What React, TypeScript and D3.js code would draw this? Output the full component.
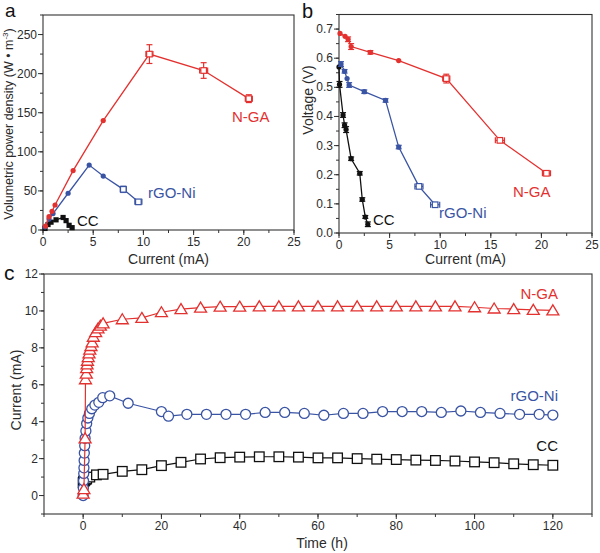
import React from "react";
import * as d3 from "d3";

const RED = "#e3312f";
const BLUE = "#3a54a4";
const BLACK = "#111111";
const TXT = "#2b2b2b";
const FONT = "Arial, 'Liberation Sans', Helvetica, sans-serif";

// ---------- Panel a: volumetric power density vs current ----------
const aNgaX = [0.25, 0.6, 0.9, 1.2, 3.0, 6.0, 10.6, 16.0, 20.5];
const aNgaY = [5, 17, 24, 32, 76, 140, 225, 204, 168];
const aNgaEY = [0, 0, 0, 0, 0, 0, 12, 10, 5];
const aNgaEX = [0, 0, 0, 0, 0, 0, 0.35, 0.4, 0.35];
const aRgoX = [0.2, 0.6, 1.0, 2.5, 4.6, 6.0, 8.0, 9.5];
const aRgoY = [4, 14, 21, 47, 83, 69, 52, 36];
const aRgoEY = [0, 0, 0, 0, 0, 0, 4, 2];
const aRgoEX = [0, 0, 0, 0, 0, 0, 0.3, 0.35];
const aCcX = [0.2, 0.5, 0.8, 1.3, 2.0, 2.3, 2.6, 2.9];
const aCcY = [2, 7, 10, 13, 16, 12, 6, 3];
const aXTicks = [0, 5, 10, 15, 20, 25];
const aYTicks = [0, 50, 100, 150, 200, 250];

// ---------- Panel b: voltage vs current ----------
const bNgaX = [0.1, 0.6, 0.9, 1.2, 3.1, 5.9, 10.6, 15.9, 20.5];
const bNgaY = [0.685, 0.675, 0.665, 0.64, 0.62, 0.592, 0.53, 0.318, 0.205];
const bNgaEY = [0, 0, 0.008, 0.01, 0.006, 0, 0.015, 0.006, 0];
const bNgaEX = [0, 0, 0, 0, 0, 0, 0.35, 0.45, 0.4];
const bRgoX = [0.2, 0.55, 0.8, 1.0, 2.5, 4.6, 5.9, 7.9, 9.5];
const bRgoY = [0.58, 0.555, 0.53, 0.508, 0.485, 0.455, 0.295, 0.16, 0.097];
const bRgoEY = [0.008, 0.006, 0, 0.008, 0.006, 0.006, 0.006, 0.006, 0.005];
const bRgoEX = [0, 0, 0, 0, 0, 0, 0, 0.4, 0.45];
const bCcX = [0.0, 0.05, 0.4, 0.55, 0.7, 1.2, 2.05, 2.3, 2.6, 2.85];
const bCcY = [0.57, 0.51, 0.405, 0.37, 0.355, 0.255, 0.205, 0.115, 0.055, 0.03];
const bCcEY = [0, 0.01, 0.008, 0.008, 0.01, 0.006, 0.006, 0.006, 0.005, 0.008];
const bXTicks = [0, 5, 10, 15, 20, 25];
const bYTicks = [0.0, 0.1, 0.2, 0.3, 0.4, 0.5, 0.6, 0.7];

// ---------- Panel c: current vs time ----------
const cNgaT = [0, 0.2, 0.5, 0.6, 0.8, 0.9, 1.0, 1.1, 1.3, 1.5, 1.7, 2.0, 2.3, 2.6, 3.2, 3.8, 4.4, 5.1,
  10, 15, 20, 25, 30, 35, 40, 45, 50, 55, 60, 65, 70, 75, 80, 85, 90, 95, 100, 105, 110, 115, 120];
const cNgaI = [0.1, 0.35, 3.1, 6.3, 6.6, 6.9, 7.1, 7.3, 7.5, 7.7, 7.9, 8.1, 8.3, 8.6, 8.85, 9.05, 9.2, 9.33,
  9.55, 9.62, 9.93, 10.1, 10.18, 10.23, 10.23, 10.25, 10.25, 10.25, 10.25, 10.25, 10.25, 10.25, 10.25, 10.25, 10.25, 10.25, 10.2, 10.13, 10.1, 10.06, 10.03];
const cRgoT = [0, 0.05, 0.1, 0.15, 0.2, 0.25, 0.3, 0.4, 0.5, 0.7, 0.9, 1.2, 1.6, 2.2, 3.0, 4.0, 5.0, 6.8,
  11.5, 20, 21.8, 26.5, 31.5, 36.5, 41.5, 46.5, 51.5, 56.5, 61.5, 66.5, 71.5, 76.5, 81.5, 86.5, 91.5, 96.5, 101.5, 106.5, 111.5, 116.5, 120];
const cRgoI = [0, 0.4, 0.8, 1.2, 1.5, 1.9, 2.3, 2.7, 3.1, 3.5, 3.9, 4.2, 4.45, 4.7, 4.9, 5.05, 5.3, 5.4,
  5.0, 4.55, 4.3, 4.4, 4.4, 4.4, 4.4, 4.5, 4.5, 4.45, 4.35, 4.45, 4.45, 4.55, 4.55, 4.55, 4.5, 4.58, 4.5, 4.45, 4.4, 4.4, 4.36];
const cCcT = [0, 0.1, 0.2, 0.3, 0.4, 0.5, 0.7, 0.9, 1.7, 3.4, 5.1, 10, 15, 20, 25, 30, 35, 40, 45, 50, 55,
  60, 65, 70, 75, 80, 85, 90, 95, 100, 105, 110, 115, 120];
const cCcI = [0.7, 0.75, 0.78, 0.8, 0.82, 0.85, 0.88, 0.9, 1.0, 1.12, 1.15, 1.31, 1.4, 1.62, 1.8, 1.98, 2.05, 2.08, 2.1, 2.1, 2.08,
  2.04, 2.04, 2.0, 1.97, 1.95, 1.92, 1.9, 1.87, 1.82, 1.78, 1.72, 1.67, 1.64];
const cXTicks = [0, 20, 40, 60, 80, 100, 120];
const cYTicks = [0, 2, 4, 6, 8, 10, 12];

type Sc = d3.ScaleLinear<number, number>;

function Frame({ x, y, xTicks, yTicks, xFmt, yFmt, xMinor, yMinor }: {
  x: Sc; y: Sc; xTicks: number[]; yTicks: number[]; xFmt: (v: number) => string; yFmt: (v: number) => string;
  xMinor: number; yMinor: number;
}) {
  const [x0, x1] = x.range();
  const [y0, y1] = y.range(); // y0 bottom, y1 top
  const xm: number[] = [];
  const [xd0, xd1] = x.domain();
  for (let v = Math.ceil(xd0 / xMinor) * xMinor; v <= xd1 + 1e-9; v += xMinor) xm.push(v);
  const ym: number[] = [];
  const [yd0, yd1] = y.domain();
  for (let v = Math.ceil(yd0 / yMinor - 1e-9) * yMinor; v <= yd1 + 1e-9; v += yMinor) ym.push(v);
  return (
    <g>
      <rect x={x0} y={y1} width={x1 - x0} height={y0 - y1} fill="none" stroke="#333" strokeWidth={1.1} />
      {xm.map((v, i) => (
        <line key={"xm" + i} x1={x(v)} x2={x(v)} y1={y0} y2={y0 + 3} stroke="#333" strokeWidth={1} />
      ))}
      {xTicks.map((v, i) => (
        <g key={"xt" + i}>
          <line x1={x(v)} x2={x(v)} y1={y0} y2={y0 + 5} stroke="#333" strokeWidth={1} />
          <text x={x(v)} y={y0 + 16} textAnchor="middle" fontSize={12} fontFamily={FONT} fill={TXT}>{xFmt(v)}</text>
        </g>
      ))}
      {ym.map((v, i) => (
        <line key={"ym" + i} x1={x0 - 3} x2={x0} y1={y(v)} y2={y(v)} stroke="#333" strokeWidth={1} />
      ))}
      {yTicks.map((v, i) => (
        <g key={"yt" + i}>
          <line x1={x0 - 5} x2={x0} y1={y(v)} y2={y(v)} stroke="#333" strokeWidth={1} />
          <text x={x0 - 6} y={y(v) + 4} textAnchor="end" fontSize={12} fontFamily={FONT} fill={TXT}>{yFmt(v)}</text>
        </g>
      ))}
    </g>
  );
}

function SmallSeries({ x, y, xs, ys, ex, ey, color, marker }: {
  x: Sc; y: Sc; xs: number[]; ys: number[]; ex?: number[]; ey?: number[]; color: string; marker: "dot" | "sq";
}) {
  const line = d3.line<number>().x((_, i) => x(xs[i])).y((_, i) => y(ys[i]));
  return (
    <g>
      <path d={line(xs) || ""} fill="none" stroke={color} strokeWidth={1.3} />
      {xs.map((v, i) => {
        const cx = x(v), cy = y(ys[i]);
        const eyv = ey ? ey[i] : 0;
        const exv = ex ? ex[i] : 0;
        return (
          <g key={i}>
            {eyv > 0 && (
              <g stroke={color} strokeWidth={1.2}>
                <line x1={cx} x2={cx} y1={y(ys[i] + eyv)} y2={y(ys[i] - eyv)} />
                <line x1={cx - 3} x2={cx + 3} y1={y(ys[i] + eyv)} y2={y(ys[i] + eyv)} />
                <line x1={cx - 3} x2={cx + 3} y1={y(ys[i] - eyv)} y2={y(ys[i] - eyv)} />
              </g>
            )}
            {exv > 0 && (
              <g stroke={color} strokeWidth={1.2}>
                <line x1={x(v - exv)} x2={x(v + exv)} y1={cy} y2={cy} />
                <line x1={x(v - exv)} x2={x(v - exv)} y1={cy - 3} y2={cy + 3} />
                <line x1={x(v + exv)} x2={x(v + exv)} y1={cy - 3} y2={cy + 3} />
              </g>
            )}
            {marker === "sq" ? (
              <rect x={cx - 2.6} y={cy - 2.6} width={5.2} height={5.2} fill={color} />
            ) : exv > 0 ? (
              <rect x={cx - 2.8} y={cy - 2.8} width={5.6} height={5.6} fill="white" stroke={color} strokeWidth={1.2} />
            ) : (
              <circle cx={cx} cy={cy} r={2.6} fill={color} />
            )}
          </g>
        );
      })}
    </g>
  );
}

function BigSeries({ x, y, xs, ys, color, marker }: {
  x: Sc; y: Sc; xs: number[]; ys: number[]; color: string; marker: "tri" | "circ" | "sq";
}) {
  const line = d3.line<number>().x((_, i) => x(xs[i])).y((_, i) => y(ys[i]));
  return (
    <g>
      <path d={line(xs) || ""} fill="none" stroke={color} strokeWidth={1.2} />
      {xs.map((v, i) => {
        const cx = x(v), cy = y(ys[i]);
        if (marker === "tri")
          return <path key={i} d={`M${cx},${cy - 5.5}L${cx + 6},${cy + 4.5}L${cx - 6},${cy + 4.5}Z`} fill="white" stroke={color} strokeWidth={1.3} />;
        if (marker === "circ")
          return <circle key={i} cx={cx} cy={cy} r={5} fill="white" stroke={color} strokeWidth={1.3} />;
        return <rect key={i} x={cx - 4.8} y={cy - 4.8} width={9.6} height={9.6} fill="white" stroke={color} strokeWidth={1.3} />;
      })}
    </g>
  );
}

export default function App() {
  // panel a scales
  const ax = d3.scaleLinear().domain([0, 25]).range([43, 294]);
  const ay = d3.scaleLinear().domain([0, 275]).range([230, 15]);
  // panel b
  const bx = d3.scaleLinear().domain([0, 25]).range([339, 592]);
  const by = d3.scaleLinear().domain([0, 0.75]).range([233, 14.5]);
  // panel c
  const cx = d3.scaleLinear().domain([-10, 130]).range([44, 592]);
  const cy = d3.scaleLinear().domain([-1, 12]).range([514, 274]);

  const intFmt = (v: number) => d3.format("d")(v);
  const oneFmt = (v: number) => d3.format(".1f")(v);

  return (
    <svg width={600} height={553} style={{ position: "absolute", left: 0, top: 0, background: "white" }} fontFamily={FONT}>
      <rect x={0} y={0} width={600} height={553} fill="white" />

      {/* Panel a */}
      <text x={5} y={17} fontSize={19} fill="#111">a</text>
      <Frame x={ax} y={ay} xTicks={aXTicks} yTicks={aYTicks} xFmt={intFmt} yFmt={intFmt} xMinor={2.5} yMinor={25} />
      <SmallSeries x={ax} y={ay} xs={aCcX} ys={aCcY} color={BLACK} marker="sq" />
      <SmallSeries x={ax} y={ay} xs={aRgoX} ys={aRgoY} ex={aRgoEX} ey={aRgoEY} color={BLUE} marker="dot" />
      <SmallSeries x={ax} y={ay} xs={aNgaX} ys={aNgaY} ex={aNgaEX} ey={aNgaEY} color={RED} marker="dot" />
      <text x={232} y={122} fontSize={15} fill={RED}>N-GA</text>
      <text x={148} y={198} fontSize={15} fill={BLUE}>rGO-Ni</text>
      <text x={77} y={226} fontSize={15} fill={BLACK}>CC</text>
      <text x={168.5} y={264} textAnchor="middle" fontSize={14} fill={TXT}>Current (mA)</text>
      <text transform="translate(13,124) rotate(-90)" textAnchor="middle" fontSize={12.5} fill={TXT}>
        Volumetric power density (W • m<tspan fontSize={8} dy={-5}>-3</tspan><tspan dy={5}>)</tspan>
      </text>

      {/* Panel b */}
      <text x={302} y={18} fontSize={20} fill="#111">b</text>
      <Frame x={bx} y={by} xTicks={bXTicks} yTicks={bYTicks} xFmt={intFmt} yFmt={oneFmt} xMinor={2.5} yMinor={0.05} />
      <SmallSeries x={bx} y={by} xs={bCcX} ys={bCcY} ey={bCcEY} color={BLACK} marker="dot" />
      <SmallSeries x={bx} y={by} xs={bRgoX} ys={bRgoY} ex={bRgoEX} ey={bRgoEY} color={BLUE} marker="dot" />
      <SmallSeries x={bx} y={by} xs={bNgaX} ys={bNgaY} ex={bNgaEX} ey={bNgaEY} color={RED} marker="dot" />
      <text x={513} y={197} fontSize={15} fill={RED}>N-GA</text>
      <text x={439} y={218} fontSize={15} fill={BLUE}>rGO-Ni</text>
      <text x={373} y={225} fontSize={15} fill={BLACK}>CC</text>
      <text x={465.5} y={264} textAnchor="middle" fontSize={14} fill={TXT}>Current (mA)</text>
      <text transform="translate(313,100) rotate(-90)" textAnchor="middle" fontSize={14} fill={TXT}>Voltage (V)</text>

      {/* Panel c */}
      <text x={4} y={280} fontSize={21} fill="#111">c</text>
      <Frame x={cx} y={cy} xTicks={cXTicks} yTicks={cYTicks} xFmt={intFmt} yFmt={intFmt} xMinor={10} yMinor={1} />
      <BigSeries x={cx} y={cy} xs={cCcT} ys={cCcI} color={BLACK} marker="sq" />
      <BigSeries x={cx} y={cy} xs={cRgoT} ys={cRgoI} color={BLUE} marker="circ" />
      <BigSeries x={cx} y={cy} xs={cNgaT} ys={cNgaI} color={RED} marker="tri" />
      <text x={558} y={299} textAnchor="end" fontSize={15} fill={RED}>N-GA</text>
      <text x={558} y={401} textAnchor="end" fontSize={15} fill={BLUE}>rGO-Ni</text>
      <text x={558} y={451} textAnchor="end" fontSize={15} fill={BLACK}>CC</text>
      <text x={322} y={548} textAnchor="middle" fontSize={14} fill={TXT}>Time (h)</text>
      <text transform="translate(21,390) rotate(-90)" textAnchor="middle" fontSize={14} fill={TXT}>Current (mA)</text>
    </svg>
  );
}
